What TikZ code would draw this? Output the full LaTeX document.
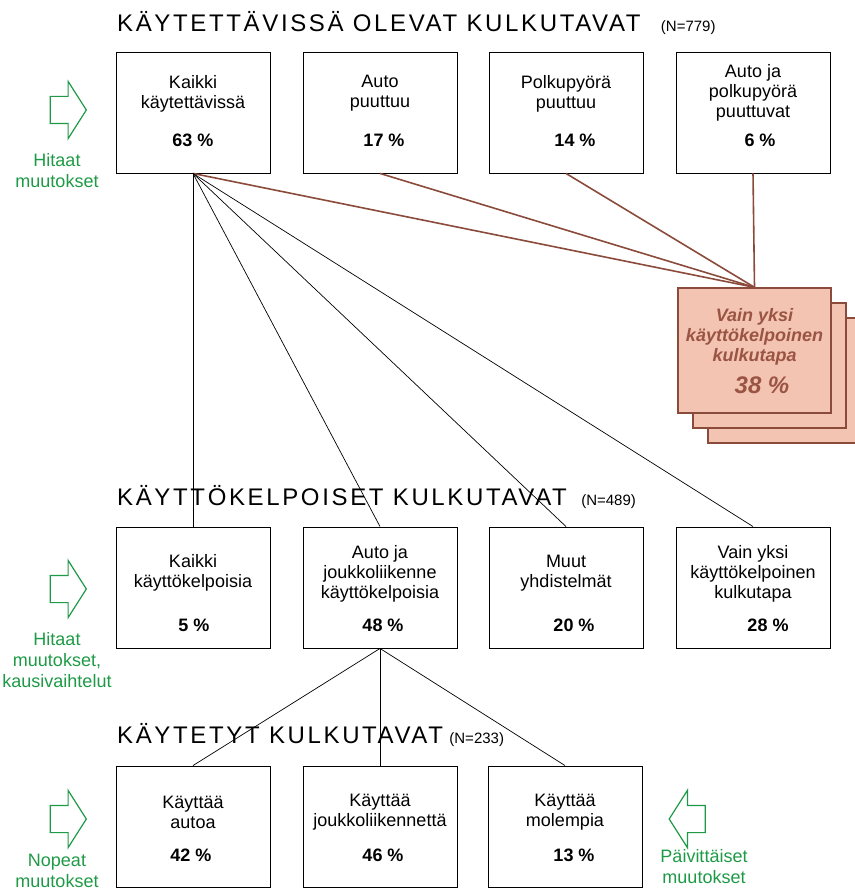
\documentclass[tikz,border=0pt]{standalone}
\usepackage{fontspec}
\setmainfont{Liberation Sans}
\newfontfamily\titlefont[LetterSpace=11]{Liberation Sans}
\usepackage{tikz}
\usetikzlibrary{shapes.arrows, positioning}
\definecolor{brownline}{HTML}{8B4B3B}
\definecolor{salmon}{HTML}{F4C4B2}
\definecolor{redtext}{HTML}{9A5444}
\definecolor{changegreen}{HTML}{1E9A46}
\tikzstyle{every node}=[font=\fontsize{18}{20}\selectfont]
\tikzstyle{block}=[draw,rectangle,line width=0.9pt,minimum width=154pt,minimum height=121pt]
\tikzstyle{boxtext}=[align=center]
\tikzstyle{share}=[font=\fontsize{18}{20}\selectfont\bfseries]
\tikzstyle{heading}=[font=\titlefont\fontsize{24}{28}\selectfont,anchor=base west]
\tikzstyle{ncount}=[font=\fontsize{15}{17}\selectfont,anchor=base west]
\tikzstyle{stackbox}=[draw=brownline,fill=salmon,rectangle,line width=1.3pt,minimum width=153pt,minimum height=125pt]
\tikzstyle{stacktext}=[text=redtext,align=center,font=\fontsize{18}{20}\selectfont\bfseries\itshape]
\tikzstyle{change}=[single arrow,draw=changegreen,line width=1.2pt,inner xsep=0pt,inner ysep=13pt,minimum height=36pt,minimum width=56pt,single arrow head extend=15pt,single arrow tip angle=115]
\tikzstyle{changetext}=[text=changegreen,align=center,font=\fontsize{18}{21}\selectfont]
\tikzstyle{link}=[draw,line width=0.7pt]
\tikzstyle{redlink}=[draw=brownline,line width=1.6pt]

\begin{document}
\begin{tikzpicture}[x=1pt,y=-1pt,inner sep=0mm]
  \useasboundingbox (0,0) rectangle (854,890);
  \node[heading] (availtitle) at (117,32) {KÄYTETTÄVISSÄ OLEVAT KULKUTAVAT};
  \node[ncount] (availn) at ([xshift=20]availtitle.base east) {(N=779)};
  \node[block] (avail1) at (193,112.5) {};
  \node[block] (avail2) at (380,112.5) {};
  \node[block] (avail3) at (566,112.5) {};
  \node[block] (avail4) at (753,112.5) {};
  \node[boxtext] (availtext1) at ([yshift=19]avail1.center) {Kaikki\\käytettävissä};
  \node[boxtext] (availtext2) at ([yshift=19]avail2.center) {Auto\\puuttuu};
  \node[boxtext] (availtext3) at ([yshift=19]avail3.center) {Polkupyörä\\puuttuu};
  \node[boxtext] (availtext4) at ([yshift=20]avail4.center) {Auto ja\\polkupyörä\\puuttuvat};
  \node[share] (availpct1) at ([yshift=-27.5]avail1.center) {63 \%};
  \node[share] (availpct2) at ([yshift=-27.5,xshift=4]avail2.center) {17 \%};
  \node[share] (availpct3) at ([yshift=-27.5,xshift=9]avail3.center) {14 \%};
  \node[share] (availpct4) at ([yshift=-27.5,xshift=7]avail4.center) {6 \%};
  \node[change] (slowarrow) at (64,110) {};
  \node[changetext] (slowtext) at (57,171) {Hitaat\\muutokset};

  \node[stackbox] (single3) at (784.5,380.5) {};
  \node[stackbox] (single2) at (769.5,365.5) {};
  \node[stackbox] (single1) at (754.5,350.5) {};
  \node[stacktext] (singletext) at ([yshift=13.5]single1.center) {Vain yksi\\käyttökelpoinen\\kulkutapa};
  \node[stacktext, font=\fontsize{24}{26}\selectfont\bfseries\itshape] (singlepct) at ([yshift=-34.5,xshift=7.5]single1.center) {38 \%};

  \node[heading] (usabletitle) at (117,505) {KÄYTTÖKELPOISET KULKUTAVAT};
  \node[ncount] (usablen) at ([xshift=14]usabletitle.base east) {(N=489)};
  \node[block] (usable1) at (193,587.5) {};
  \node[block] (usable2) at (380,587.5) {};
  \node[block] (usable3) at (566,587.5) {};
  \node[block] (usable4) at (753,587.5) {};
  \node[boxtext] (usabletext1) at ([yshift=14.5]usable1.center) {Kaikki\\käyttökelpoisia};
  \node[boxtext] (usabletext2) at ([yshift=13.5]usable2.center) {Auto ja\\joukkoliikenne\\käyttökelpoisia};
  \node[boxtext] (usabletext3) at ([yshift=14.5]usable3.center) {Muut\\yhdistelmät};
  \node[boxtext] (usabletext4) at ([yshift=13.5]usable4.center) {Vain yksi\\käyttökelpoinen\\kulkutapa};
  \node[share] (usablepct1) at ([yshift=-37.5,xshift=1]usable1.center) {5 \%};
  \node[share] (usablepct2) at ([yshift=-37.5,xshift=3]usable2.center) {48 \%};
  \node[share] (usablepct3) at ([yshift=-37.5,xshift=8]usable3.center) {20 \%};
  \node[share] (usablepct4) at ([yshift=-37.5,xshift=15]usable4.center) {28 \%};
  \node[change] (seasonarrow) at (64,589) {};
  \node[changetext] (seasontext) at (57,660.5) {Hitaat\\muutokset,\\kausivaihtelut};

  \node[heading] (usedtitle) at (117,743) {KÄYTETYT KULKUTAVAT};
  \node[ncount] (usedn) at ([xshift=6]usedtitle.base east) {(N=233)};
  \node[block] (used1) at (193,826.5) {};
  \node[block] (used2) at (380,826.5) {};
  \node[block] (used3) at (565,826.5) {};
  \node[boxtext] (usedtext1) at ([yshift=14.5]used1.center) {Käyttää\\autoa};
  \node[boxtext] (usedtext2) at ([yshift=14.5]used2.center) {Käyttää\\joukkoliikennettä};
  \node[boxtext] (usedtext3) at ([yshift=14.5]used3.center) {Käyttää\\molempia};
  \node[share] (usedpct1) at ([yshift=-28.5,xshift=-2]used1.center) {42 \%};
  \node[share] (usedpct2) at ([yshift=-28.5,xshift=3]used2.center) {46 \%};
  \node[share] (usedpct3) at ([yshift=-28.5,xshift=9]used3.center) {13 \%};
  \node[change] (fastarrow) at (64,819) {};
  \node[changetext] (fasttext) at (57,871) {Nopeat\\muutokset};
  \node[change, shape border rotate=180] (dailyarrow) at (691.5,819) {};
  \node[changetext] (dailytext) at (704,867) {Päivittäiset\\muutokset};

  \draw[redlink] (avail1.south) -- (single1.north);
  \draw[redlink] (avail2.south) -- (single1.north);
  \draw[redlink] (avail3.south) -- (single1.north);
  \draw[redlink] (avail4.south) -- (single1.north);
  \draw[link] (avail1.south) -- (usable1.north);
  \draw[link] (avail1.south) -- (usable2.north);
  \draw[link] (avail1.south) -- (usable3.north);
  \draw[link] (avail1.south) -- (usable4.north);
  \draw[link] (usable2.south) -- (used1.north);
  \draw[link] (usable2.south) -- (used2.north);
  \draw[link] (usable2.south) -- (used3.north);
\end{tikzpicture}
\end{document}
